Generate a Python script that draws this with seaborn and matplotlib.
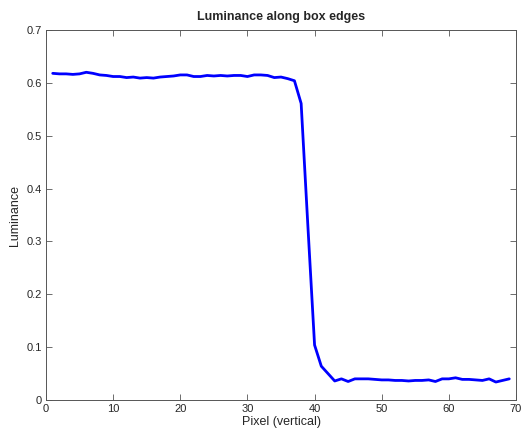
import numpy as np
import pandas as pd
import matplotlib
matplotlib.use("Agg")
import matplotlib.pyplot as plt
import seaborn as sns

# data
pixel = list(range(1, 70))
luminance = [
    0.618, 0.617, 0.617, 0.616, 0.617, 0.620, 0.618, 0.615, 0.614, 0.612,
    0.612, 0.610, 0.611, 0.609, 0.610, 0.609, 0.611, 0.612, 0.613, 0.615,
    0.615, 0.612, 0.612, 0.614, 0.613, 0.614, 0.613, 0.614, 0.614, 0.612,
    0.615, 0.615, 0.614, 0.610, 0.611, 0.608, 0.604, 0.561, 0.330, 0.104,
    0.064, 0.050, 0.036, 0.040, 0.035, 0.040, 0.040, 0.040, 0.039, 0.038,
    0.038, 0.037, 0.037, 0.036, 0.037, 0.037, 0.038, 0.035, 0.040, 0.040,
    0.042, 0.039, 0.039, 0.038, 0.037, 0.040, 0.034, 0.037, 0.040,
]
x_ticks = [0, 10, 20, 30, 40, 50, 60, 70]
y_ticks = [0, 0.1, 0.2, 0.3, 0.4, 0.5, 0.6, 0.7]

df = pd.DataFrame({"Pixel": pixel, "Luminance": luminance})

sns.set_theme(style="white")
plt.rcParams['font.family'] = ['Liberation Sans', 'DejaVu Sans']
plt.rcParams['xtick.direction'] = 'in'
plt.rcParams['ytick.direction'] = 'in'

fig = plt.figure(figsize=(5.22, 4.29), dpi=100)
ax = fig.add_axes([46 / 522, 29 / 429, 470 / 522, 370 / 429])

sns.lineplot(data=df, x="Pixel", y="Luminance", ax=ax, color="#0000ff", linewidth=2.0)

ax.set_xlim(0, 70)
ax.set_ylim(0, 0.7)
ax.set_xticks(x_ticks)
ax.set_xticklabels([str(t) for t in x_ticks])
ax.set_yticks(y_ticks)
ax.set_yticklabels(["0"] + [f"{t:.1f}" for t in y_ticks[1:]])
ax.tick_params(axis="both", which="both", labelsize=8, length=4, width=0.6, color="#555555",
               top=True, right=True, bottom=True, left=True, pad=3)
for s in ax.spines.values():
    s.set_visible(True)
    s.set_color("#555555")
    s.set_linewidth(0.7)

ax.set_xlabel("Pixel (vertical)", fontsize=9, labelpad=1)
ax.set_ylabel("Luminance", fontsize=9, labelpad=4)
ax.set_title("Luminance along box edges", fontsize=9, fontweight="bold", pad=7)

fig.savefig("out.png", dpi=100, facecolor="white")
